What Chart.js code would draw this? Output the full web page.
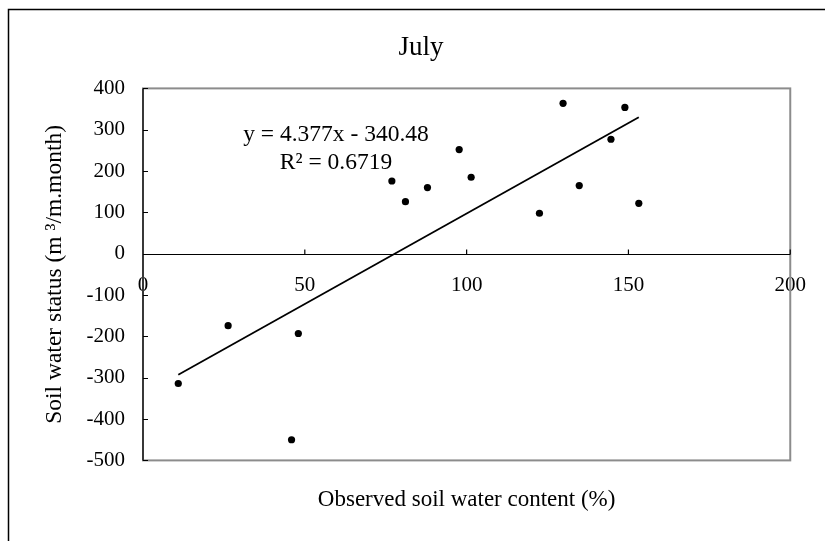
<!DOCTYPE html>
<html>
<head>
<meta charset="utf-8">
<script src="https://cdn.jsdelivr.net/npm/chart.js@4"></script>
<style>
  html, body { margin: 0; padding: 0; background: #fff; }
  #wrap { width: 825px; height: 541px; }
</style>
</head>
<body>
<div id="wrap"><canvas id="chart-july" width="825" height="541"></canvas></div>
<script>
// observed soil water content (%) and soil water status (m3/m.month)
const waterContent = [10.9, 26.3, 45.9, 48.0, 76.9, 81.1, 87.9, 97.7, 101.4, 122.5, 129.8, 134.8, 144.6, 148.9, 153.2];
const waterStatus = [-314, -174, -450, -193, 176, 126, 160, 252, 185, 98, 364, 165, 277, 354, 122];

const xTicks = [0, 50, 100, 150, 200];
const yTicks = [-500, -400, -300, -200, -100, 0, 100, 200, 300, 400];

// trendline as printed on the chart
const slope = 4.377;
const intercept = -340.48;
const eqLines = ['y = 4.377x - 340.48', 'R² = 0.6719'];

const serif = '"Liberation Serif", "Times New Roman", serif';

const points = waterContent.map((x, i) => ({ x: x, y: waterStatus[i] }));
const xMin = Math.min(...waterContent);
const xMax = Math.max(...waterContent);
const trend = [
    { x: xMin, y: slope * xMin + intercept },
    { x: xMax, y: slope * xMax + intercept }
];

const excelFrame = {
    id: 'excelFrame',
    beforeDraw(chart) {
        const c = chart.ctx;
        c.save();
        c.fillStyle = '#fff';
        c.fillRect(0, 0, chart.width, chart.height);
        // outer chart border (only top and left are in view)
        c.strokeStyle = '#000';
        c.lineWidth = 1.5;
        c.beginPath();
        c.moveTo(8.5, chart.height + 5);
        c.lineTo(8.5, 9.5);
        c.lineTo(chart.width + 5, 9.5);
        c.stroke();
        c.restore();
    },
    beforeDatasetsDraw(chart) {
        const c = chart.ctx;
        const a = chart.chartArea;
        const xs = chart.scales.x;
        const ys = chart.scales.y;
        const y0 = Math.round(ys.getPixelForValue(0)) + 0.5;
        c.save();
        // plot area border
        c.strokeStyle = '#8c8c8c';
        c.lineWidth = 2;
        c.strokeRect(a.left, a.top, a.right - a.left, a.bottom - a.top);
        c.strokeStyle = '#000';
        c.lineWidth = 1.2;
        c.beginPath();
        // y axis + inward ticks
        c.moveTo(a.left, a.top);
        c.lineTo(a.left, a.bottom);
        yTicks.forEach(v => {
            const p = Math.round(ys.getPixelForValue(v)) + 0.5;
            c.moveTo(a.left, p);
            c.lineTo(a.left + 5, p);
        });
        // x axis at y = 0 + upward ticks
        c.moveTo(a.left, y0);
        c.lineTo(a.right, y0);
        xTicks.forEach(v => {
            const p = xs.getPixelForValue(v);
            c.moveTo(p, y0);
            c.lineTo(p, y0 - 5);
        });
        c.stroke();
        c.restore();
    },
    afterDraw(chart) {
        const c = chart.ctx;
        c.save();
        c.fillStyle = '#000';
        c.font = '23.5px ' + serif;
        c.textAlign = 'center';
        c.textBaseline = 'middle';
        c.fillText(eqLines[0], 336, 135);
        c.fillText(eqLines[1], 336, 163);
        c.restore();
    }
};

const ctx = document.getElementById('chart-july').getContext('2d');
const chart = new Chart(ctx, {
    type: 'scatter',
    data: {
        datasets: [{
            label: 'July',
            data: points,
            backgroundColor: '#000',
            borderColor: '#000',
            pointRadius: 3.6,
            pointBorderWidth: 0
        }, {
            label: 'Linear',
            data: trend,
            showLine: true,
            borderColor: '#000',
            borderWidth: 1.8,
            pointRadius: 0
        }]
    },
    options: {
        responsive: false,
        animation: false,
        layout: {
            padding: { left: 17, right: 0, top: 0, bottom: 0 }
        },
        scales: {
            x: {
                type: 'linear',
                position: { y: 0 },
                min: 0,
                max: 200,
                grid: { display: false, drawTicks: false },
                border: { display: false },
                ticks: {
                    stepSize: 50,
                    padding: 19,
                    color: '#000',
                    font: { family: serif, size: 21 }
                },
                afterFit(scale) { scale.height = 0; }
            },
            y: {
                type: 'linear',
                min: -500,
                max: 400,
                grid: { display: false, drawTicks: false },
                border: { display: false },
                ticks: {
                    stepSize: 100,
                    padding: 18,
                    color: '#000',
                    font: { family: serif, size: 21 }
                },
                title: {
                    display: true,
                    text: 'Soil water status (m ³/m.month)',
                    color: '#000',
                    font: { family: serif, size: 23.5 },
                    padding: { top: 24, bottom: 0 }
                },
                afterFit(scale) { scale.width = 126; }
            },
            // empty right-hand box, keeps the plot area off the right edge
            yRight: {
                axis: 'y',
                position: 'right',
                grid: { display: false, drawTicks: false },
                border: { display: false },
                ticks: { display: false },
                afterFit(scale) { scale.width = 32; }
            }
        },
        plugins: {
            legend: { display: false },
            tooltip: { enabled: false },
            title: {
                display: true,
                text: 'July',
                color: '#000',
                font: { family: serif, size: 27, weight: 'normal' },
                padding: { top: 32, bottom: 24 }
            },
            subtitle: {
                display: true,
                position: 'bottom',
                fullSize: false,
                text: 'Observed soil water content (%)',
                color: '#000',
                font: { family: serif, size: 23 },
                padding: { top: 26, bottom: 27 }
            }
        }
    },
    plugins: [excelFrame]
});
</script>
</body>
</html>
